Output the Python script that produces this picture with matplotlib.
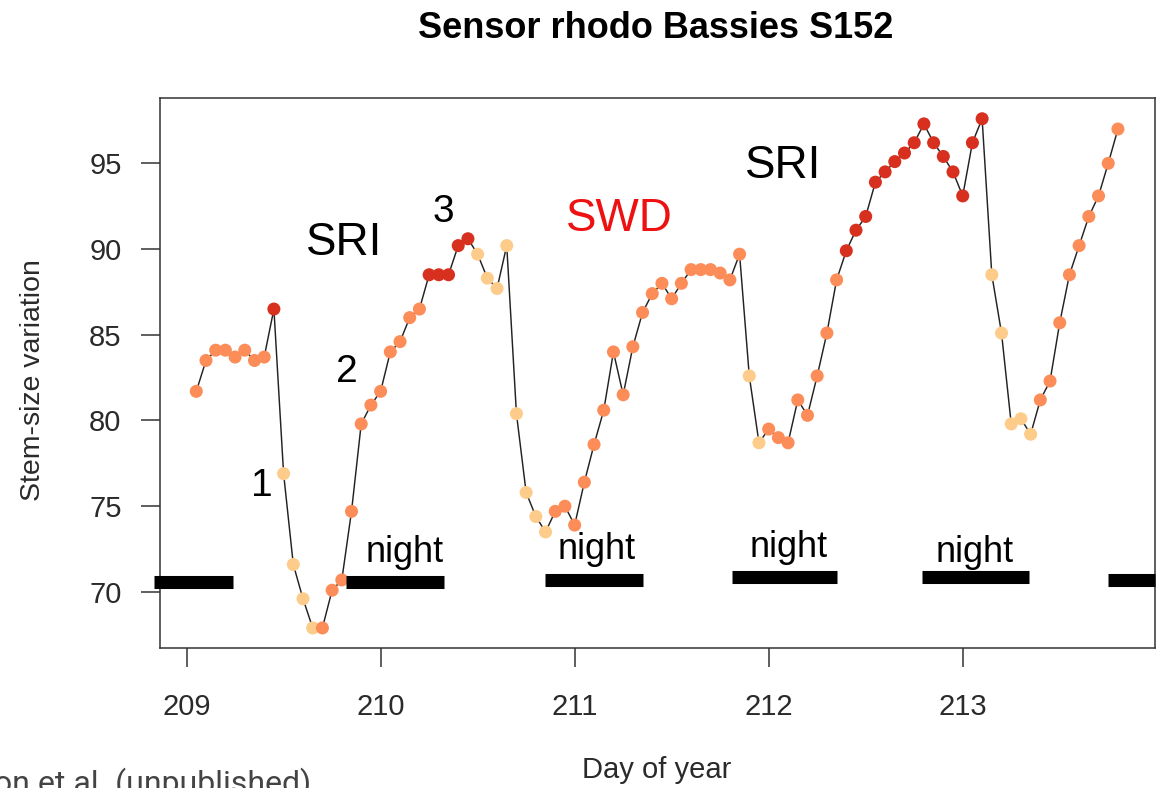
import numpy as np
import matplotlib
matplotlib.use("Agg")
from matplotlib import pyplot as plt

plt.rcParams['font.family'] = ['Liberation Sans', 'DejaVu Sans']

# stem size readings, one every 0.05 day starting at day 209.05
start_day = 209.05
step = 0.05
stem_size = [81.7, 83.5, 84.1, 84.1, 83.7, 84.1, 83.5, 83.7, 86.5, 76.9,
             71.6, 69.6, 67.9, 67.9, 70.1, 70.7, 74.7, 79.8, 80.9, 81.7,
             84.0, 84.6, 86.0, 86.5, 88.5, 88.5, 88.5, 90.2, 90.6, 89.7,
             88.3, 87.7, 90.2, 80.4, 75.8, 74.4, 73.5, 74.7, 75.0, 73.9,
             76.4, 78.6, 80.6, 84.0, 81.5, 84.3, 86.3, 87.4, 88.0, 87.1,
             88.0, 88.8, 88.8, 88.8, 88.6, 88.2, 89.7, 82.6, 78.7, 79.5,
             79.0, 78.7, 81.2, 80.3, 82.6, 85.1, 88.2, 89.9, 91.1, 91.9,
             93.9, 94.5, 95.1, 95.6, 96.2, 97.3, 96.2, 95.4, 94.5, 93.1,
             96.2, 97.6, 88.5, 85.1, 79.8, 80.1, 79.2, 81.2, 82.3, 85.7,
             88.5, 90.2, 91.9, 93.1, 95.0, 97.0]
# phase class of each reading: 0 = shrinking, 1 = refilling, 2 = maximum
phase = [1, 1, 1, 1, 1, 1, 1, 1, 2, 0,
         0, 0, 0, 1, 1, 1, 1, 1, 1, 1,
         1, 1, 1, 1, 2, 2, 2, 2, 2, 0,
         0, 0, 0, 0, 0, 0, 0, 1, 1, 1,
         1, 1, 1, 1, 1, 1, 1, 1, 1, 1,
         1, 1, 1, 1, 1, 1, 1, 0, 0, 1,
         1, 1, 1, 1, 1, 1, 1, 2, 2, 2,
         2, 2, 2, 2, 2, 2, 2, 2, 2, 2,
         2, 2, 0, 0, 0, 0, 0, 1, 1, 1,
         1, 1, 1, 1, 1, 1]
phase_colors = ['#fdcc8a', '#fc8d59', '#d7301f']

# night periods (start day, end day, bar height)
night_start = [208.83, 209.82, 210.845, 211.81, 212.79, 213.75]
night_end = [209.24, 210.325, 211.35, 212.35, 213.34, 213.99]
night_level = [70.56, 70.56, 70.70, 70.85, 70.85, 70.70]

days = start_day + step * np.arange(len(stem_size))
colors = [phase_colors[p] for p in phase]

fig = plt.figure(figsize=(11.61, 7.88), dpi=100)
ax = fig.add_axes([160 / 1161, 1 - 648 / 788, 995 / 1161, 550 / 788])

ax.plot(days, stem_size, color='#222222', lw=1.05, zorder=2)
ax.scatter(days, stem_size, c=colors, s=88, edgecolors='none', zorder=3)

for x0, x1, y in zip(night_start, night_end, night_level):
    ax.plot([x0, x1], [y, y], color='black', lw=9.4, solid_capstyle='butt',
            zorder=4, clip_on=False)

ax.set_xlim(208.863, 213.991)
ax.set_ylim(66.73, 98.81)
ax.set_xticks([209, 210, 211, 212, 213])
ax.set_yticks([70, 75, 80, 85, 90, 95])
ax.tick_params(direction='out', length=13.7, width=1.1, color='#333333',
               labelsize=21, labelcolor='#2a2a2a')
ax.tick_params(axis='x', pad=19)
ax.tick_params(axis='y', pad=14)
for s in ax.spines.values():
    s.set_color('#333333')
    s.set_linewidth(1.1)

# annotations
night_x = [210.126, 211.115, 212.105, 213.063]
night_y = [71.75, 71.92, 72.04, 71.75]
for x, y in zip(night_x, night_y):
    ax.text(x, y, 'night', ha='center', va='baseline', fontsize=26)

ax.text(209.812, 89.65, 'SRI', ha='center', va='baseline', fontsize=33)
ax.text(212.074, 94.14, 'SRI', ha='center', va='baseline', fontsize=33)
ax.text(211.229, 91.05, 'SWD', ha='center', va='baseline', fontsize=33,
        color='#ee1111')
ax.text(210.322, 91.57, '3', ha='center', va='baseline', fontsize=28)
ax.text(209.827, 82.24, '2', ha='center', va='baseline', fontsize=28)
ax.text(209.389, 75.60, '1', ha='center', va='baseline', fontsize=28)

fig.text(656 / 1161, 1 - 28 / 788, 'Sensor rhodo Bassies S152', ha='center',
         va='center', fontsize=26, fontweight='bold')
fig.text(33 / 1161, 1 - 380 / 788, 'Stem-size variation', rotation=90,
         ha='center', va='center', fontsize=20.5, color='#2a2a2a')
fig.text(657 / 1161, 1 - 770 / 788, 'Day of year', ha='center', va='center',
         fontsize=21, color='#2a2a2a')
fig.text(-6 / 1161, 1 - 793 / 788, 'on et al. (unpublished)', ha='left',
         va='baseline', fontsize=23, color='#444444',
         family=['Roboto', 'DejaVu Sans'])

fig.savefig('out.png', dpi=100)
